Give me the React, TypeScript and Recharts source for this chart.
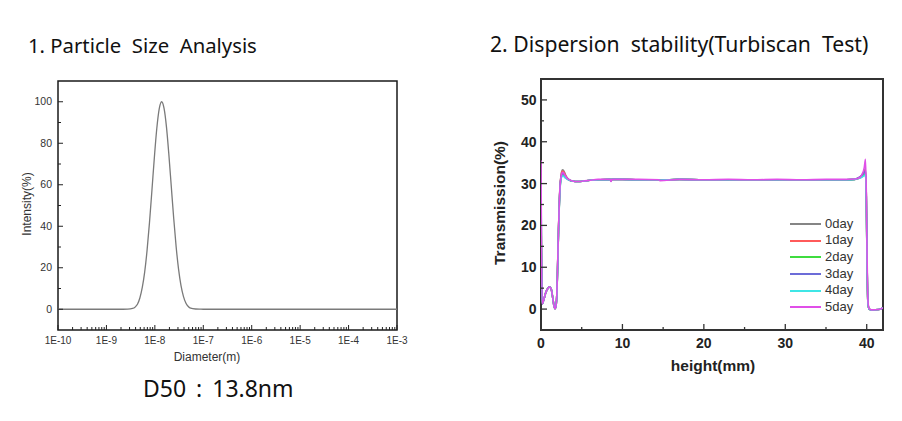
import React from 'react';
import { LineChart, Line, XAxis, YAxis, ReferenceArea, Legend } from 'recharts';

// ---------- 1. Particle size analysis ----------
const diameters = [
  1e-10, 2.19e-9, 2.75e-9, 3.47e-9, 3.89e-9, 4.37e-9, 4.9e-9, 5.5e-9, 6.17e-9, 6.92e-9,
  7.76e-9, 8.71e-9, 9.77e-9, 1.096e-8, 1.23e-8, 1.38e-8, 1.549e-8, 1.738e-8, 1.95e-8,
  2.188e-8, 2.455e-8, 2.754e-8, 3.09e-8, 3.467e-8, 3.89e-8, 4.365e-8, 4.898e-8, 5.495e-8,
  6.918e-8, 8.71e-8, 1e-7, 1e-6, 1e-5, 1e-4, 1e-3,
];
const intensity = [
  0, 0, 0.05, 0.4, 1.0, 2.4, 5.4, 10.5, 18.0, 28.6,
  42.0, 57.5, 73.2, 87.1, 96.6, 100, 96.8, 87.8, 74.3,
  58.9, 43.6, 30.0, 19.2, 11.4, 6.2, 3.0, 1.3, 0.5,
  0.12, 0.03, 0, 0, 0, 0, 0,
];
const decadeExponents = [-10, -9, -8, -7, -6, -5, -4, -3];
const minorMultipliers = [1, 2, 3, 4, 5, 6, 7, 8, 9];
const intensityTicks = [0, 10, 20, 30, 40, 50, 60, 70, 80, 90, 100];
const intensityLabelTicks = [0, 20, 40, 60, 80, 100];

// ---------- 2. Dispersion stability ----------
const heightsMm = [
  0, 0.05, 0.15, 0.35, 0.6, 0.85, 1.05, 1.25, 1.45, 1.6,
  1.72, 1.85, 1.95, 2.05, 2.15, 2.25, 2.35, 2.45, 2.55, 2.65,
  2.75, 2.9, 3.1, 3.4, 3.8, 4.2, 4.6, 5.2, 6, 7,
  8.5, 8.6, 8.7, 10, 12, 14.5, 14.6, 17, 20, 23,
  26, 29, 32, 35, 37.5, 38.5, 39, 39.4, 39.7, 39.85,
  39.95, 40.05, 40.15, 40.3, 40.6, 41.5, 42,
];
const day0 = [
  22, 14, 1.2, 2.3, 4.0, 5.0, 5.3, 4.8, 2.6, 0.7,
  0.1, 0.9, 3.8, 11, 19, 25.5, 29.8, 31.8, 32.9, 33.3,
  33.2, 32.6, 31.7, 31.0, 30.6, 30.5, 30.5, 30.6, 30.8, 30.9,
  31.0, 30.6, 31.0, 31.0, 30.9, 30.9, 30.8, 31.0, 30.9, 30.9,
  30.9, 30.9, 30.9, 30.9, 30.9, 31.0, 31.4, 32.0, 32.9, 33.6,
  27, 10, 1.5, 0, -0.2, -0.1, 0.3,
];
const day1 = [
  25, 15, 1.2, 2.3, 4.0, 5.0, 5.3, 4.8, 2.6, 0.7,
  0.1, 0.9, 3.8, 11, 19, 25.3, 29.6, 31.6, 32.7, 33.0,
  32.9, 32.4, 31.6, 31.0, 30.6, 30.5, 30.5, 30.6, 30.8, 30.9,
  31.0, 30.7, 31.0, 31.0, 30.9, 30.9, 30.8, 31.0, 30.9, 30.9,
  30.9, 30.9, 30.9, 30.9, 30.9, 31.0, 31.3, 31.9, 32.7, 33.2,
  27, 10, 1.5, 0, -0.2, -0.1, 0.3,
];
const day2 = [
  28, 16, 1.2, 2.3, 4.0, 5.0, 5.3, 4.8, 2.6, 0.7,
  0.1, 0.9, 3.6, 10.5, 18.5, 25, 29.2, 31.2, 31.9, 32.1,
  32.0, 31.7, 31.3, 30.9, 30.6, 30.5, 30.5, 30.6, 30.8, 30.9,
  31.0, 30.7, 31.0, 31.0, 30.9, 30.9, 30.8, 31.0, 30.9, 30.9,
  30.9, 30.9, 30.9, 30.9, 30.9, 31.0, 31.2, 31.6, 32.0, 32.3,
  26, 10, 1.5, 0, -0.2, -0.1, 0.3,
];
const day3 = [
  18, 13, 1.2, 2.3, 4.0, 5.0, 5.3, 4.8, 2.6, 0.7,
  0.1, 0.9, 3.7, 10.8, 18.8, 25.2, 29.4, 31.3, 32.1, 32.4,
  32.3, 31.9, 31.4, 30.9, 30.6, 30.5, 30.5, 30.6, 30.8, 30.9,
  31.0, 30.7, 31.0, 31.0, 30.9, 30.9, 30.8, 31.0, 30.9, 30.9,
  30.9, 30.9, 30.9, 30.9, 30.9, 31.0, 31.4, 32.0, 32.6, 33.0,
  27, 10, 1.5, 0, -0.2, -0.1, 0.3,
];
const day4 = [
  30, 17, 1.2, 2.3, 4.0, 5.0, 5.3, 4.8, 2.6, 0.7,
  0.1, 0.9, 3.5, 10.3, 18.3, 24.8, 29.0, 31.0, 31.6, 31.8,
  31.8, 31.5, 31.2, 30.9, 30.6, 30.5, 30.5, 30.6, 30.8, 30.9,
  31.0, 30.7, 31.0, 31.0, 30.9, 30.9, 30.8, 31.0, 30.9, 30.9,
  30.9, 30.9, 30.9, 30.9, 30.9, 31.0, 31.2, 31.5, 31.9, 32.1,
  26, 10, 1.5, 0, -0.2, -0.1, 0.3,
];
const day5 = [
  35.5, 18, 1.2, 2.3, 4.0, 5.0, 5.3, 4.8, 2.6, 0.7,
  0.1, 0.9, 3.8, 11, 19, 25.4, 29.7, 31.4, 32.3, 32.7,
  32.6, 32.1, 31.5, 31.0, 30.7, 30.5, 30.5, 30.6, 30.8, 31.0,
  31.0, 30.5, 31.0, 31.0, 31.0, 30.9, 30.7, 31.0, 30.9, 31.0,
  30.9, 31.0, 30.9, 31.0, 31.0, 31.1, 31.3, 32.1, 33.8, 35.8,
  28, 12, 2, 0.1, -0.2, -0.1, 0.3,
];
const seriesNames = ['0day', '1day', '2day', '3day', '4day', '5day'];
const seriesColors = ['#858585', '#ff5a5a', '#3fdc3f', '#6c6cd8', '#3fe6e6', '#e04fe8'];
const heightTicks = [0, 5, 10, 15, 20, 25, 30, 35, 40];
const heightLabelTicks = [0, 10, 20, 30, 40];
const transTicks = [0, 5, 10, 15, 20, 25, 30, 35, 40, 45, 50];
const transLabelTicks = [0, 10, 20, 30, 40, 50];

// ---------- derived tables ----------
const psaData = diameters.map((d, i) => ({ d, i: intensity[i] }));
const diameterTicks: number[] = [];
decadeExponents.forEach((e, k) => {
  if (k === decadeExponents.length - 1) {
    diameterTicks.push(Math.pow(10, e));
  } else {
    minorMultipliers.forEach((m) => diameterTicks.push(m * Math.pow(10, e)));
  }
});
const dayArrays = [day0, day1, day2, day3, day4, day5];
const turbiData = heightsMm.map((h, idx) => {
  const row: Record<string, number> = { h };
  seriesNames.forEach((n, s) => {
    row[n] = dayArrays[s][idx];
  });
  return row;
});

const ARIAL = 'Arial, "Liberation Sans", sans-serif';

const LeftXTick = (props: any) => {
  const { x, y, payload } = props;
  const exp = Math.log10(payload.value);
  const major = Math.abs(exp - Math.round(exp)) < 1e-6;
  return (
    <g>
      <line x1={x} x2={x} y1={y} y2={y - (major ? 5 : 3)} stroke="#222" strokeWidth={1} />
      {major && (
        <text x={x} y={y + 13.5} textAnchor="middle" fontSize={10} fill="#333" fontFamily={ARIAL}>
          {`1E${Math.round(exp)}`}
        </text>
      )}
    </g>
  );
};

const LeftYTick = (props: any) => {
  const { x, y, payload } = props;
  const major = intensityLabelTicks.includes(payload.value);
  return (
    <g>
      <line x1={x} x2={x + (major ? 5 : 3)} y1={y} y2={y} stroke="#222" strokeWidth={1} />
      {major && (
        <text x={x - 6} y={y + 3.6} textAnchor="end" fontSize={10.5} fill="#333" fontFamily={ARIAL}>
          {payload.value}
        </text>
      )}
    </g>
  );
};

const RightXTick = (props: any) => {
  const { x, y, payload } = props;
  const major = heightLabelTicks.includes(payload.value);
  return (
    <g>
      <line x1={x} x2={x} y1={y} y2={y - (major ? 6 : 3)} stroke="#333" strokeWidth={1.3} />
      {major && (
        <text x={x} y={y + 17.7} textAnchor="middle" fontSize={14} fontWeight="bold" fill="#222" fontFamily={ARIAL}>
          {payload.value}
        </text>
      )}
    </g>
  );
};

const RightYTick = (props: any) => {
  const { x, y, payload } = props;
  const major = transLabelTicks.includes(payload.value);
  return (
    <g>
      <line x1={x} x2={x + (major ? 6 : 3)} y1={y} y2={y} stroke="#333" strokeWidth={1.3} />
      {major && (
        <text x={x - 4.5} y={y + 5} textAnchor="end" fontSize={14} fontWeight="bold" fill="#222" fontFamily={ARIAL}>
          {payload.value}
        </text>
      )}
    </g>
  );
};

const LegendContent = (props: any) => {
  const { payload } = props;
  return (
    <div style={{ fontFamily: ARIAL, fontSize: 13, color: '#333' }}>
      {(payload || []).map((entry: any) => (
        <div key={entry.value} style={{ height: 16.7, display: 'flex', alignItems: 'center' }}>
          <svg width={31} height={4} style={{ display: 'block' }}>
            <line x1={0} x2={31} y1={2} y2={2} stroke={entry.color} strokeWidth={2} />
          </svg>
          <span style={{ marginLeft: 4, lineHeight: '16.7px' }}>{entry.value}</span>
        </div>
      ))}
    </div>
  );
};

export default function App() {
  return (
    <div style={{ position: 'absolute', left: 0, top: 0, width: 902, height: 421, background: '#fff', overflow: 'hidden' }}>
      <div style={{ position: 'absolute', left: 0, top: 0 }}>
        <LineChart width={450} height={421} data={psaData} margin={{ top: 81, right: 53, bottom: 61, left: 28 }}>
          <XAxis
            dataKey="d"
            type="number"
            scale="log"
            domain={[1e-10, 1e-3]}
            ticks={diameterTicks}
            interval={0}
            tick={LeftXTick}
            tickLine={false}
            tickSize={0}
            tickMargin={0}
            axisLine={false}
            height={30}
            allowDataOverflow
          />
          <YAxis
            type="number"
            domain={[-10, 110]}
            ticks={intensityTicks}
            interval={0}
            tick={LeftYTick}
            tickLine={false}
            tickSize={0}
            tickMargin={0}
            axisLine={false}
            width={30}
            allowDataOverflow
          />
          <ReferenceArea x1={1e-10} x2={1e-3} y1={-10} y2={110} fill="none" fillOpacity={0} stroke="#1a1a1a" strokeWidth={1.5} ifOverflow="visible" />
          <Line dataKey="i" type="monotone" stroke="#7a7a7a" strokeWidth={1.3} dot={false} isAnimationActive={false} />
        </LineChart>
      </div>
      <div style={{ position: 'absolute', left: 450, top: 0 }}>
        <LineChart width={452} height={421} data={turbiData} margin={{ top: 79, right: 19, bottom: 61, left: 61 }}>
          <XAxis
            dataKey="h"
            type="number"
            domain={[0, 42]}
            ticks={heightTicks}
            interval={0}
            tick={RightXTick}
            tickLine={false}
            tickSize={0}
            tickMargin={0}
            axisLine={false}
            height={30}
            allowDataOverflow
          />
          <YAxis
            type="number"
            domain={[-5, 55]}
            ticks={transTicks}
            interval={0}
            tick={RightYTick}
            tickLine={false}
            tickSize={0}
            tickMargin={0}
            axisLine={false}
            width={30}
            allowDataOverflow
          />
          <ReferenceArea x1={0} x2={42} y1={-5} y2={55} fill="none" fillOpacity={0} stroke="#333" strokeWidth={2} ifOverflow="visible" />
          {seriesNames.map((n, s) => (
            <Line
              key={n}
              dataKey={n}
              name={n}
              type="monotone"
              stroke={seriesColors[s]}
              strokeWidth={1.6}
              dot={false}
              isAnimationActive={false}
            />
          ))}
          <Legend
            layout="vertical"
            align="center"
            verticalAlign="middle"
            content={LegendContent}
            wrapperStyle={{ left: 340, top: 215.6, width: 80 }}
          />
        </LineChart>
      </div>
      <svg width={902} height={421} style={{ position: 'absolute', left: 0, top: 0, pointerEvents: 'none' }}>
        <text x={28} y={53} fontFamily='"Noto Sans", sans-serif' fontSize={20.3} fill="#111" style={{ whiteSpace: 'pre' }}>
          {'1. Particle  Size  Analysis'}
        </text>
        <text x={490} y={52} fontFamily='"Noto Sans", sans-serif' fontSize={21.2} fill="#111" style={{ whiteSpace: 'pre' }}>
          {'2. Dispersion  stability(Turbiscan  Test)'}
        </text>
        <text x={143} y={397} fontFamily='"Noto Sans", sans-serif' fontSize={23} fill="#111" wordSpacing={4} style={{ whiteSpace: 'pre' }}>
          {'D50 : 13.8nm'}
        </text>
        <text x={207} y={361} textAnchor="middle" fontFamily={ARIAL} fontSize={12} fill="#333">
          Diameter(m)
        </text>
        <text x={30.5} y={204} textAnchor="middle" fontFamily={ARIAL} fontSize={12} fill="#333" transform="rotate(-90 30.5 204)">
          Intensity(%)
        </text>
        <text x={713} y={371} textAnchor="middle" fontFamily={ARIAL} fontSize={15.5} fontWeight="bold" fill="#222">
          height(mm)
        </text>
        <text x={504.5} y={203} textAnchor="middle" fontFamily={ARIAL} fontSize={15.5} fontWeight="bold" fill="#222" transform="rotate(-90 504.5 203)">
          Transmission(%)
        </text>
      </svg>
    </div>
  );
}
